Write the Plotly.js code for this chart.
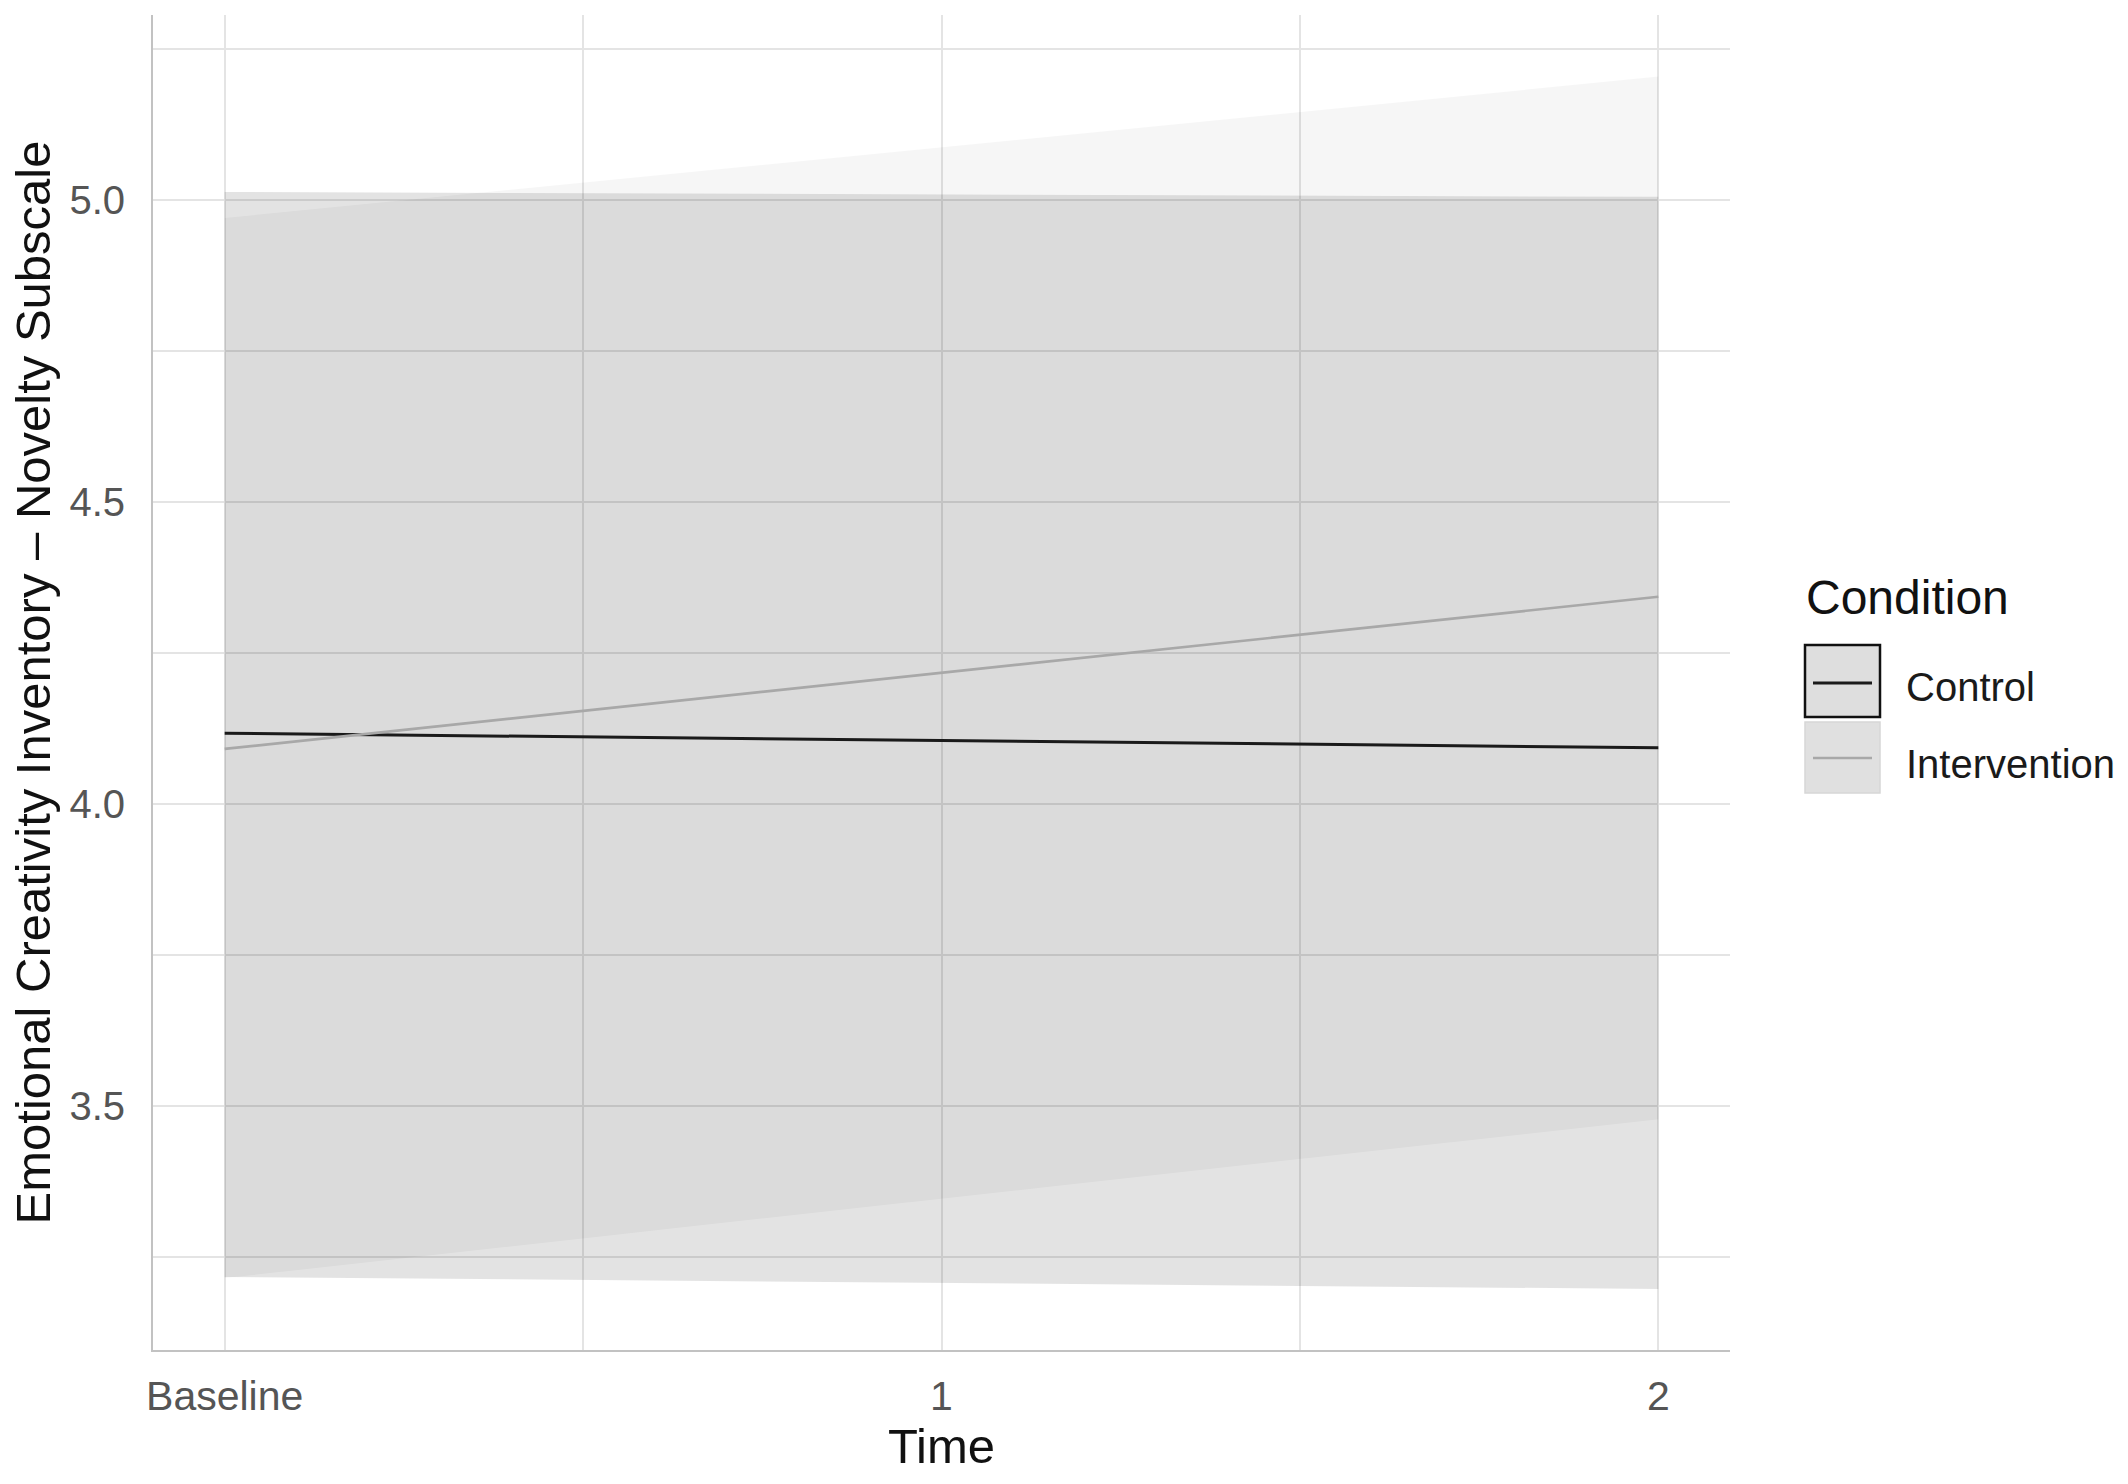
<!DOCTYPE html>
<html>
<head>
<meta charset="utf-8">
<script src="https://cdn.plot.ly/plotly-3.0.1.min.js"></script>
<style>html,body{margin:0;padding:0;background:#fff;}#chart{width:2128px;height:1484px;}</style>
</head>
<body>
<div id="chart"></div>
<script>
// ---- data ----
const timePoints = [0, 1, 2];
const timeLabels = ['Baseline', '1', '2'];
const controlMean = [4.117, 4.105, 4.093];
const controlLower = [3.217, 3.207, 3.197];
const controlUpper = [5.013, 5.009, 5.005];
const interventionMean = [4.091, 4.217, 4.343];
const interventionLower = [3.215, 3.347, 3.478];
const interventionUpper = [4.970, 5.087, 5.204];
const yTickVals = [3.5, 4.0, 4.5, 5.0];
const yTickText = ['3.5', '4.0', '4.5', '5.0'];
const yMinorVals = [3.25, 3.75, 4.25, 4.75, 5.25];
const xMinorVals = [0.5, 1.5];
const legendTitle = 'Condition';
const seriesNames = ['Control', 'Intervention'];

// ---- styling ----
const FONT = 'Liberation Sans, Arial, Helvetica, sans-serif';
const W = 2128, H = 1484;
const M = {l: 153, r: 398, t: 15, b: 134};
const PW = W - M.l - M.r, PH = H - M.t - M.b;
const px = x => (x - M.l) / PW;
const py = y => (H - M.b - y) / PH;
const gridColor = '#e4e4e4';
const controlFill = 'rgba(0,0,0,0.11)';
const interventionFill = 'rgba(0,0,0,0.035)';
const controlLine = '#1a1a1a';
const interventionLine = '#a8a8a8';

const traces = [
  {x: timePoints, y: controlLower, mode: 'lines', line: {width: 0}, hoverinfo: 'skip', showlegend: false},
  {x: timePoints, y: controlUpper, mode: 'lines', line: {width: 0}, fill: 'tonexty', fillcolor: controlFill, hoverinfo: 'skip', showlegend: false},
  {x: timePoints, y: interventionLower, mode: 'lines', line: {width: 0}, hoverinfo: 'skip', showlegend: false},
  {x: timePoints, y: interventionUpper, mode: 'lines', line: {width: 0}, fill: 'tonexty', fillcolor: interventionFill, hoverinfo: 'skip', showlegend: false},
  {x: timePoints, y: controlMean, mode: 'lines', name: seriesNames[0], line: {color: controlLine, width: 3}, showlegend: false},
  {x: timePoints, y: interventionMean, mode: 'lines', name: seriesNames[1], line: {color: interventionLine, width: 2.7}, showlegend: false}
];

// custom ggplot-like legend
const shapes = [
  {type: 'rect', xref: 'paper', yref: 'paper', x0: px(1805), x1: px(1880), y0: py(717), y1: py(645), fillcolor: '#dedede', line: {color: '#111', width: 2.5}},
  {type: 'line', xref: 'paper', yref: 'paper', x0: px(1813), x1: px(1872), y0: py(683), y1: py(683), line: {color: controlLine, width: 3}},
  {type: 'rect', xref: 'paper', yref: 'paper', x0: px(1805), x1: px(1880), y0: py(793), y1: py(722), fillcolor: '#e0e0e0', line: {color: '#d6d6d6', width: 1.5}},
  {type: 'line', xref: 'paper', yref: 'paper', x0: px(1813), x1: px(1872), y0: py(758), y1: py(758), line: {color: interventionLine, width: 2.5}}
];
const annotations = [
  {xref: 'paper', yref: 'paper', x: px(1804), y: py(597), text: legendTitle, showarrow: false, xanchor: 'left', yanchor: 'middle', font: {family: FONT, size: 48, color: '#111'}},
  {xref: 'paper', yref: 'paper', x: px(1904), y: py(687), text: seriesNames[0], showarrow: false, xanchor: 'left', yanchor: 'middle', font: {family: FONT, size: 40, color: '#1a1a1a'}},
  {xref: 'paper', yref: 'paper', x: px(1904), y: py(764), text: seriesNames[1], showarrow: false, xanchor: 'left', yanchor: 'middle', font: {family: FONT, size: 40, color: '#1a1a1a'}}
];

const layout = {
  width: W, height: H,
  margin: M,
  paper_bgcolor: '#ffffff', plot_bgcolor: '#ffffff',
  font: {family: FONT},
  showlegend: false,
  xaxis: {
    range: [-0.1, 2.1],
    tickmode: 'array', tickvals: timePoints, ticktext: timeLabels,
    tickfont: {family: FONT, size: 41, color: '#555'},
    ticks: 'outside', ticklen: 9, tickcolor: 'rgba(0,0,0,0)',
    showgrid: true, gridcolor: gridColor, gridwidth: 2,
    minor: {tickvals: xMinorVals, showgrid: true, gridcolor: gridColor, gridwidth: 2, ticks: ''},
    showline: true, linecolor: '#c2c2c2', linewidth: 2,
    zeroline: false,
    title: {text: 'Time', font: {family: FONT, size: 49, color: '#111'}, standoff: 8},
    automargin: false
  },
  yaxis: {
    range: [3.096, 5.306],
    tickmode: 'array', tickvals: yTickVals, ticktext: yTickText,
    tickfont: {family: FONT, size: 40, color: '#555'},
    ticks: 'outside', ticklen: 18, tickcolor: 'rgba(0,0,0,0)',
    showgrid: true, gridcolor: gridColor, gridwidth: 2,
    minor: {tickvals: yMinorVals, showgrid: true, gridcolor: gridColor, gridwidth: 2, ticks: ''},
    showline: true, linecolor: '#c2c2c2', linewidth: 2,
    zeroline: false,
    title: {text: 'Emotional Creativity Inventory – Novelty Subscale', font: {family: FONT, size: 49, color: '#111'}, standoff: 3},
    automargin: false
  },
  shapes: shapes,
  annotations: annotations
};

Plotly.newPlot('chart', traces, layout, {displayModeBar: false, staticPlot: true});
</script>
</body>
</html>
